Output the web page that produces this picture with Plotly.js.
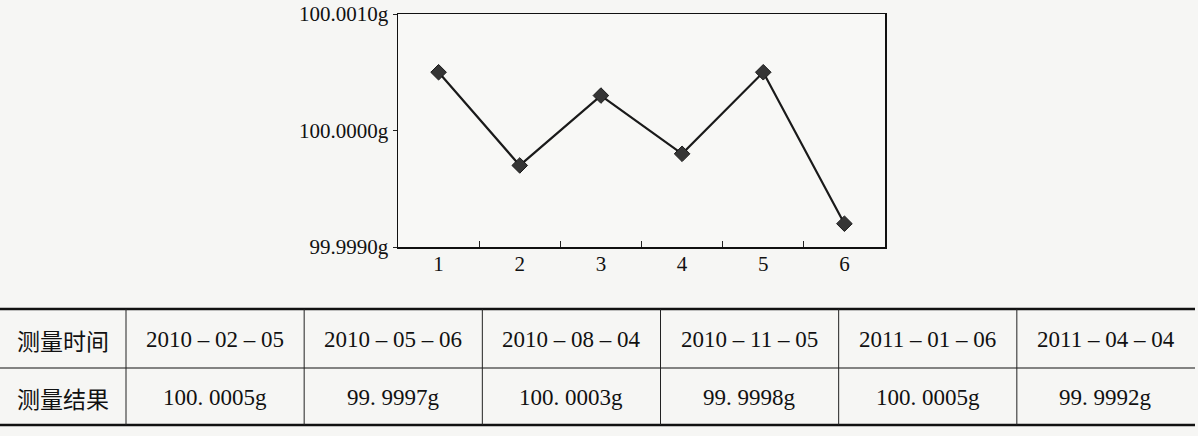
<!DOCTYPE html>
<html>
<head>
<meta charset="utf-8">
<script src="https://cdn.plot.ly/plotly-3.0.1.min.js"></script>
<style>
html,body{margin:0;padding:0;background:#f6f6f4;}
#chart{width:1198px;height:436px;}
</style>
</head>
<body>
<div id="chart"></div>
<script>
// ---- data ----
const pointLabels = ["1", "2", "3", "4", "5", "6"];
const measuredValues = [100.0005, 99.9997, 100.0003, 99.9998, 100.0005, 99.9992];
const yTickValues = [99.999, 100.000, 100.001];
const yTickLabels = ["99.9990g", "100.0000g", "100.0010g"];
const rowHeaders = ["测量时间", "测量结果"];
const measureDates = ["2010 – 02 – 05", "2010 – 05 – 06", "2010 – 08 – 04", "2010 – 11 – 05", "2011 – 01 – 06", "2011 – 04 – 04"];
const measureResults = ["100. 0005g", "99. 9997g", "100. 0003g", "99. 9998g", "100. 0005g", "99. 9992g"];

// ---- geometry (pixels) ----
const W = 1198, H = 436;
const px = x => x / W;
const py = y => 1 - y / H;
const tbl = {left: 0, right: 1195, headerW: 126, top: 309, mid: 368, bottom: 425};
const serif = "Liberation Serif, Times New Roman, serif";
const cjk = "Noto Sans CJK SC, sans-serif";

const trace = {
  type: "scatter",
  mode: "lines+markers",
  x: pointLabels,
  y: measuredValues,
  line: {color: "#1a1a1a", width: 2.2},
  marker: {symbol: "diamond", size: 12, color: "#353535", line: {color: "#1a1a1a", width: 1}},
  hoverinfo: "x+y",
  showlegend: false
};

const shapes = [];
const annotations = [];
const nCols = measureDates.length;
const colW = (tbl.right - tbl.left - tbl.headerW) / nCols;
// horizontal rules
[[tbl.top, 2.5], [tbl.mid, 1], [tbl.bottom, 2.5]].forEach(([y, w]) => {
  shapes.push({type: "line", xref: "paper", yref: "paper", x0: px(tbl.left), x1: px(tbl.right), y0: py(y), y1: py(y), line: {color: "#111", width: w}});
});
// vertical rules
for (let i = 0; i < nCols; i++) {
  const x = tbl.left + tbl.headerW + i * colW;
  shapes.push({type: "line", xref: "paper", yref: "paper", x0: px(x), x1: px(x), y0: py(tbl.top), y1: py(tbl.bottom), line: {color: "#222", width: 1}});
}
const rowCenters = [(tbl.top + tbl.mid) / 2 + 1, (tbl.mid + tbl.bottom) / 2 + 1];
rowHeaders.forEach((t, r) => {
  annotations.push({xref: "paper", yref: "paper", x: px(tbl.left + tbl.headerW / 2), y: py(rowCenters[r]), text: t, showarrow: false, xanchor: "center", yanchor: "middle", font: {family: cjk, size: 23, color: "#111"}});
});
[measureDates, measureResults].forEach((row, r) => {
  row.forEach((t, i) => {
    annotations.push({xref: "paper", yref: "paper", x: px(tbl.left + tbl.headerW + (i + 0.5) * colW), y: py(rowCenters[r]), text: t, showarrow: false, xanchor: "center", yanchor: "middle", font: {family: serif, size: 23, color: "#111"}});
  });
});

const layout = {
  width: W, height: H,
  margin: {l: 0, r: 0, t: 0, b: 0},
  paper_bgcolor: "#f6f6f4",
  plot_bgcolor: "#f8f8f6",
  showlegend: false,
  xaxis: {
    domain: [px(398), px(885)],
    type: "category",
    range: [-0.5, 5.5],
    tickson: "boundaries",
    ticks: "inside", ticklen: 6, tickwidth: 1, tickcolor: "#222",
    ticklabelstandoff: -3,
    showgrid: false, zeroline: false,
    showline: true, linecolor: "#111", linewidth: 1.5, mirror: true,
    tickfont: {family: serif, size: 21, color: "#111"},
    fixedrange: true
  },
  yaxis: {
    domain: [py(247), py(14)],
    range: [99.999, 100.001],
    tickmode: "array", tickvals: yTickValues, ticktext: yTickLabels,
    ticks: "outside", ticklen: 4, tickwidth: 1, tickcolor: "#222",
    showgrid: false, zeroline: false,
    showline: true, linecolor: "#111", linewidth: 1.5, mirror: true,
    tickfont: {family: serif, size: 21, color: "#111"},
    fixedrange: true
  },
  shapes: shapes,
  annotations: annotations
};

Plotly.newPlot("chart", [trace], layout, {displayModeBar: false, staticPlot: true});
</script>
</body>
</html>
